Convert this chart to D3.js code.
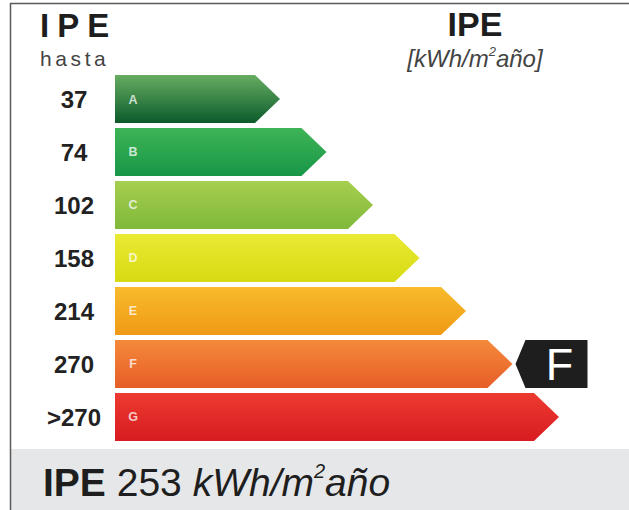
<!DOCTYPE html>
<html><head><meta charset="utf-8">
<script src="https://cdn.jsdelivr.net/npm/d3@7"></script>
<style>body{margin:0;background:#fff}svg{display:block}</style>
</head><body><svg id="c" width="629" height="510"></svg>
<script>
const classes = ["A","B","C","D","E","F","G"];
const thresholds = ["37","74","102","158","214","270",">270"];
const classRank = [1,2,3,4,5,6,7];
const topColors = ["#66ad62","#3fb457","#a6cf4e","#eaea34","#f8bb2c","#f58a3a","#ec3b30"];
const bottomColors = ["#0c5a2b","#179647","#7fb83a","#d6da12","#ef9a16","#e65d28","#d81b20"];
const currentClass = "F";
const currentValue = 253;
const unitLabel = "kWh/m";

const svg = d3.select("#c");
const font = "'Liberation Sans', Arial, sans-serif";
const defs = svg.append("defs");
classes.forEach((c,i)=>{
  const g = defs.append("linearGradient").attr("id","g"+c).attr("x1",0).attr("x2",0).attr("y1",0).attr("y2",1);
  g.append("stop").attr("offset","0%").attr("stop-color",topColors[i]);
  g.append("stop").attr("offset","100%").attr("stop-color",bottomColors[i]);
});

// frame
svg.append("rect").attr("x",10).attr("y",449).attr("width",619).attr("height",61).attr("fill","#e6e7e8");
svg.append("line").attr("x1",10.5).attr("x2",10.5).attr("y1",3).attr("y2",510).attr("stroke","#5a5a5a").attr("stroke-width",1.5);
svg.append("line").attr("x1",10).attr("x2",629).attr("y1",3.5).attr("y2",3.5).attr("stroke","#5a5a5a").attr("stroke-width",1.5);

const y = d3.scaleBand().domain(classes).range([75,441]).paddingInner(0.094).paddingOuter(0);
const x = d3.scaleLinear().domain([1,7]).range([280,559]);
const x0 = 115;
const h = y.bandwidth();
const tip = 25;

const rows = svg.append("g").selectAll("g").data(classes).join("g")
  .attr("transform", d=>`translate(0,${y(d)})`);
rows.append("path")
  .attr("d",(d,i)=>{const xe=x(classRank[i]);return `M${x0},0H${xe-tip}L${xe},${h/2}L${xe-tip},${h}H${x0}Z`;})
  .attr("fill",d=>`url(#g${d})`);
rows.append("text").attr("x",133).attr("y",h/2+4.5).attr("text-anchor","middle")
  .attr("font-family",font).attr("font-weight","bold").attr("font-size",12.5)
  .attr("fill","#fff").attr("fill-opacity",0.75).text(d=>d);
rows.append("text").attr("x",74).attr("y",h/2+9).attr("text-anchor","middle")
  .attr("font-family",font).attr("font-weight","bold").attr("font-size",24)
  .attr("fill","#222").text((d,i)=>thresholds[i]);

// current marker
const ci = classes.indexOf(currentClass);
const my = y(currentClass);
const mx = x(classRank[ci]) + 3;
svg.append("path").attr("d",`M${mx},${my+h/2}L${mx+10},${my}H${mx+72}V${my+h}H${mx+10}Z`).attr("fill","#1e1e1e");
svg.append("text").attr("x",mx+44).attr("y",my+h/2+16).attr("text-anchor","middle")
  .attr("font-family",font).attr("font-size",45).attr("fill","#fff").text(currentClass);

// headers
svg.append("text").attr("x",40).attr("y",37).attr("font-family",font).attr("font-weight","bold")
  .attr("font-size",33).attr("letter-spacing",8).attr("fill","#1e1e1e").text("IPE");
svg.append("text").attr("x",40).attr("y",66).attr("font-family",font)
  .attr("font-size",21).attr("letter-spacing",3.6).attr("fill","#444").text("hasta");
svg.append("text").attr("x",475).attr("y",36).attr("text-anchor","middle").attr("font-family",font).attr("font-weight","bold")
  .attr("font-size",34).attr("fill","#1e1e1e").text("IPE");
const u = svg.append("text").attr("x",475).attr("y",67).attr("text-anchor","middle").attr("font-family",font)
  .attr("font-style","italic").attr("font-size",24).attr("fill","#444");
u.append("tspan").text("[" + unitLabel);
u.append("tspan").attr("font-size",13).attr("dy",-11).text("2");
u.append("tspan").attr("dy",11).text("año]");

// bottom value
const b = svg.append("text").attr("x",43).attr("y",496).attr("font-family",font).attr("font-size",39).attr("fill","#1e1e1e");
b.append("tspan").attr("font-weight","bold").text("IPE");
b.append("tspan").text(" " + currentValue + " ");
b.append("tspan").attr("font-style","italic").text(unitLabel);
b.append("tspan").attr("font-style","italic").attr("font-size",20).attr("dy",-18).text("2");
b.append("tspan").attr("font-style","italic").attr("dy",18).text("año");
</script></body></html>
